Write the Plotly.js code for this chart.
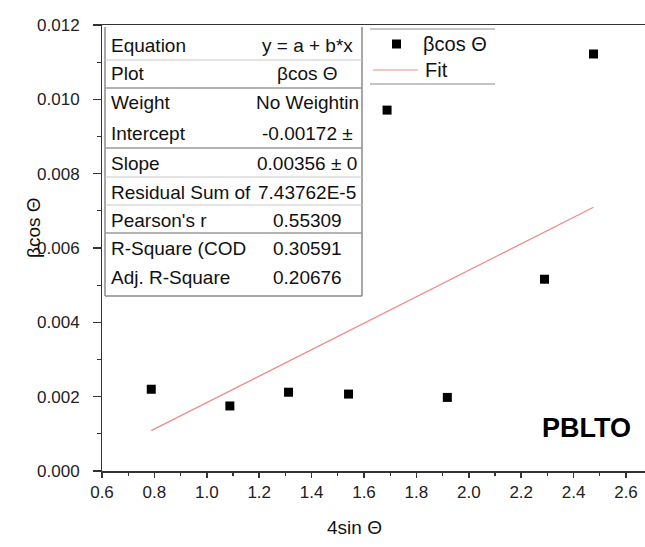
<!DOCTYPE html>
<html>
<head>
<meta charset="utf-8">
<script src="https://cdn.plot.ly/plotly-3.0.1.min.js"></script>
<style>
  html, body { margin: 0; padding: 0; background: #fff; }
  #chart { width: 645px; height: 547px; }
</style>
</head>
<body>
<div id="chart"></div>
<script>
// Williamson–Hall data for PBLTO
const xSin = [0.788, 1.088, 1.312, 1.541, 1.688, 1.918, 2.289, 2.476];
const yBetaCos = [0.00220, 0.00175, 0.00212, 0.00207, 0.00971, 0.00198, 0.00516, 0.01122];

// Linear fit parameters
const fitIntercept = -0.00172;
const fitSlope = 0.00356;

// Fit report table
const tableLabels = ["Equation", "Plot", "Weight", "Intercept", "Slope",
  "Residual Sum of", "Pearson's r", "R-Square (COD", "Adj. R-Square"];
const tableValues = ["y = a + b*x", "βcos Θ", "No Weightin", "-0.00172 ±",
  "0.00356 ± 0", "7.43762E-5", "0.55309", "0.30591", "0.20676"];

const legendNames = ["βcos Θ", "Fit"];

const xTicks = [0.6, 0.8, 1.0, 1.2, 1.4, 1.6, 1.8, 2.0, 2.2, 2.4, 2.6];
const yTicks = [0.000, 0.002, 0.004, 0.006, 0.008, 0.010, 0.012];

// frame geometry (pixels)
const W = 645, H = 547;
const M = { l: 102, r: 0, t: 25, b: 76 };
const PW = W - M.l - M.r, PH = H - M.t - M.b;
const PX_PER_UNIT_X = 262;
const X = px => (px - M.l) / PW;
const Y = py => (H - M.b - py) / PH;

const fitX = [Math.min(...xSin), Math.max(...xSin)];
const fitY = fitX.map(v => fitIntercept + fitSlope * v);

const FONT = '"Liberation Sans", Arial, sans-serif';
const MARKER_COLOR = '#000';
const FIT_COLOR = '#f08a8a';

const traces = [
  {
    x: xSin, y: yBetaCos, type: 'scatter', mode: 'markers', name: legendNames[0],
    marker: { symbol: 'square', size: 9, color: MARKER_COLOR }
  },
  {
    x: fitX, y: fitY, type: 'scatter', mode: 'lines', name: legendNames[1],
    line: { color: FIT_COLOR, width: 1.2 }
  }
];

const txt = (px, py, text, anchor, size, extra) => Object.assign({
  xref: 'paper', yref: 'paper', x: X(px), y: Y(py), xanchor: anchor, yanchor: 'middle',
  text: text, showarrow: false, font: { family: FONT, size: size, color: '#111' }
}, extra || {});

// table rows
const rowCenters = [45, 73, 103, 133, 163, 192, 220, 248, 277];
const annotations = [];
tableLabels.forEach((t, i) => {
  annotations.push(txt(109, rowCenters[i], t, 'left', 19));
  annotations.push(txt(307, rowCenters[i], tableValues[i], 'center', 19));
});
// legend entries
annotations.push(txt(421, 44, legendNames[0], 'left', 20));
annotations.push(txt(423, 70, legendNames[1], 'left', 20));
// sample label and axis titles
annotations.push(txt(586, 428, '<b>PBLTO</b>', 'center', 27, { font: { family: FONT, size: 27, color: '#000' } }));
annotations.push(txt(354, 527, '4sin Θ', 'center', 19));
annotations.push(txt(33, 228, 'βcos Θ', 'center', 19, { textangle: -90 }));

const hline = (py, x0, x1, color, w) => ({ type: 'line', xref: 'paper', yref: 'paper',
  x0: X(x0), x1: X(x1), y0: Y(py), y1: Y(py), line: { color: color, width: w } });
const vline = (px, y0, y1, color, w) => ({ type: 'line', xref: 'paper', yref: 'paper',
  x0: X(px), x1: X(px), y0: Y(y0), y1: Y(y1), line: { color: color, width: w } });

const shapes = [
  vline(105, 27, 296, '#8a8a8a', 1.5),
  vline(362, 27, 296, '#8a8a8a', 1.5),
  hline(296, 105, 362, '#8a8a8a', 1.5),
  hline(60, 105, 362, '#c8c8c8', 1),
  hline(88, 105, 362, '#9a9a9a', 1.5),
  hline(148, 105, 362, '#9a9a9a', 1.5),
  hline(177, 105, 362, '#c8c8c8', 1),
  hline(205, 105, 362, '#c8c8c8', 1),
  hline(233, 105, 362, '#9a9a9a', 1.5),
  // legend frame and swatches
  hline(29, 370, 495, '#8a8a8a', 1.2),
  hline(84, 370, 495, '#8a8a8a', 1.2),
  { type: 'rect', xref: 'paper', yref: 'paper', x0: X(392), x1: X(401), y0: Y(48.5), y1: Y(39.5),
    fillcolor: MARKER_COLOR, line: { width: 0 } },
  hline(70, 373, 418, FIT_COLOR, 1.2)
];

const NBSP = '\u00a0';

const layout = {
  width: W, height: H,
  margin: M,
  paper_bgcolor: '#fff', plot_bgcolor: '#fff',
  font: { family: FONT, color: '#111' },
  showlegend: false,
  xaxis: {
    range: [0.6, 0.6 + PW / PX_PER_UNIT_X],
    tickvals: xTicks, ticktext: xTicks.map(v => v.toFixed(1)),
    ticks: 'outside', ticklen: 5, tickwidth: 1.5, tickcolor: '#333',
    showline: true, linecolor: '#333', linewidth: 1.5, mirror: true,
    showgrid: false, zeroline: false,
    tickfont: { family: FONT, size: 17, color: '#222' },
    minor: { dtick: 0.1, ticks: 'outside', ticklen: 3, tickwidth: 1.2, tickcolor: '#333', showgrid: false }
  },
  yaxis: {
    range: [0, 0.012],
    tickvals: yTicks, ticktext: yTicks.map(v => v.toFixed(3) + NBSP + NBSP),
    ticks: 'outside', ticklen: 8, tickwidth: 1.5, tickcolor: '#333',
    showline: true, linecolor: '#333', linewidth: 1.5, mirror: false,
    showgrid: false, zeroline: false,
    tickfont: { family: FONT, size: 17, color: '#222' },
    minor: { dtick: 0.001, ticks: 'outside', ticklen: 4, tickwidth: 1.2, tickcolor: '#333', showgrid: false }
  },
  annotations: annotations,
  shapes: shapes
};

Plotly.newPlot('chart', traces, layout, { displayModeBar: false, staticPlot: true });
</script>
</body>
</html>
